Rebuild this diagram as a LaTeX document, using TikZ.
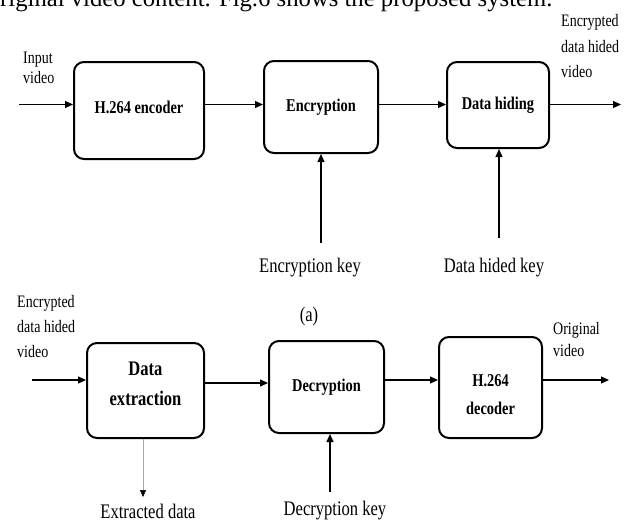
\documentclass[tikz,border=0pt]{standalone}
\usepackage{fontspec}
\setmainfont{Liberation Serif}[FakeStretch=0.8]
\newfontfamily\bodyfont{Liberation Serif}
\usetikzlibrary{arrows.meta}
\newcommand{\shiftt}[2]{\raisebox{#1}[\height][\depth]{#2}}
\begin{document}
\begin{tikzpicture}[x=1pt,y=-1pt,
  box/.style={draw, line width=2pt, rounded corners=10pt, align=center, inner sep=0pt,
              font=\fontsize{18}{28}\selectfont\bfseries},
  arr/.style={line width=1.2pt, -{Triangle[length=8pt,width=7pt]}},
  thinarr/.style={line width=0.5pt, draw=black!35, -{Triangle[length=7pt,width=6pt,color=black]}},
  side/.style={inner sep=0pt, align=left, anchor=west},
  keylbl/.style={inner sep=0pt, font=\fontsize{20.7}{22}\selectfont}]

\useasboundingbox (0,0) rectangle (626,522);
\clip (0,0) rectangle (626,522);

% clipped body text at the top
\node[inner sep=0pt, anchor=base west, font=\bodyfont\fontsize{24.7}{28}\selectfont] (toptext) at (0,6)
  {riginal video content. Fig.6 shows the proposed system.};

% ---- top row (a)
\node[box, minimum width=130pt, minimum height=97pt] (enc) at (139,110.5) {\shiftt{3.5pt}{H.264 encoder}};
\node[box, minimum width=114pt, minimum height=92pt] (encr) at (321,107) {Encryption};
\node[box, minimum width=102pt, minimum height=86pt] (hide) at (498,105) {Data hiding};

\node[side, font=\fontsize{17.5}{20}\selectfont] (inlbl) at (23,68) {Input\\video};
\node[side, font=\fontsize{17.5}{25.5}\selectfont] (outlbl) at (561,46.5) {Encrypted\\data hided\\video};
\node[keylbl] (k1lbl) at (310,268) {Encryption key};
\node[keylbl] (k2lbl) at (494,268) {Data hided key};
\node[keylbl] (cap) at (309,317) {(a)};

\coordinate (rowA) at (0,104.5);
\coordinate (in1) at (19,104.5);
\coordinate (out1) at (621,104.5);
\coordinate (k1) at (321,243);
\coordinate (k2) at (499,238);

\draw[arr] (in1) -- (enc.west |- rowA);
\draw[arr] (enc.east |- rowA) -- (encr.west |- rowA);
\draw[arr] (encr.east |- rowA) -- (hide.west |- rowA);
\draw[arr] (hide.east |- rowA) -- (out1);
\draw[arr] (k1) -- (encr.south -| k1);
\draw[arr] (k2) -- (hide.south -| k2);

% ---- bottom row
\node[box, minimum width=117pt, minimum height=95pt, font=\fontsize{20.7}{30}\selectfont\bfseries] (extr) at (145.5,390.5)
  {\shiftt{6pt}{\begin{tabular}{@{}c@{}}Data\\extraction\end{tabular}}};
\node[box, minimum width=115pt, minimum height=92pt] (decr) at (326.5,387) {Decryption};
\node[box, minimum width=103pt, minimum height=101pt] (dec) at (490.5,387.5)
  {\shiftt{-7pt}{\begin{tabular}{@{}c@{}}H.264\\decoder\end{tabular}}};

\node[side, font=\fontsize{17.5}{25}\selectfont] (in2lbl) at (17,327) {Encrypted\\data hided\\video};
\node[side, font=\fontsize{17.5}{22}\selectfont] (out2lbl) at (553,340) {Original\\video};
\node[keylbl] (exlbl) at (148,511) {Extracted data};
\node[keylbl] (k3lbl) at (335,511) {Decryption key};

\coordinate (in2) at (32,380);
\coordinate (rowB) at (0,383);
\coordinate (rowC) at (0,380);
\coordinate (out2) at (609,380);
\coordinate (exd) at (143,497);
\coordinate (k3) at (330,492);

\draw[arr] (in2) -- (extr.west |- in2);
\draw[arr] (extr.east |- rowB) -- (decr.west |- rowB);
\draw[arr] (decr.east |- rowC) -- (dec.west |- rowC);
\draw[arr] (dec.east |- rowC) -- (out2);
\draw[thinarr] (extr.south -| exd) -- (exd);
\draw[arr] (k3) -- (decr.south -| k3);
\end{tikzpicture}
\end{document}
